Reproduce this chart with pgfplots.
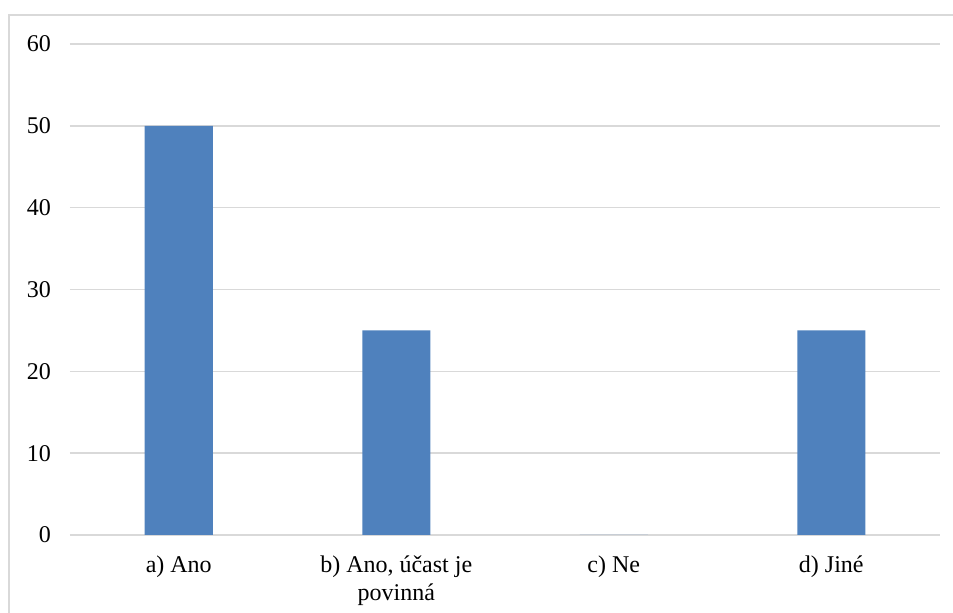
\documentclass[border=0pt]{standalone}
\usepackage{fontspec}
\setmainfont{Liberation Serif}
\usepackage{pgfplots}
\pgfplotsset{compat=1.18}
\definecolor{barblue}{HTML}{4F81BD}
\definecolor{gridgray}{HTML}{D9D9D9}
\begin{document}
\begin{tikzpicture}
\useasboundingbox (0,0) rectangle (476.5pt,306.5pt);
% outer chart frame (top and left edges)
\draw[gridgray, line width=0.8pt] (4.5pt,-2pt) -- (4.5pt,299pt) -- (480pt,299pt);
\begin{axis}[
  at={(35pt,39pt)}, anchor=south west,
  scale only axis, width=435pt, height=245.5pt,
  xmin=-0.5, xmax=3.5, ymin=0, ymax=60,
  ytick={0,10,...,60},
  xtick={0,1,2,3},
  xticklabels={a) Ano, {b) Ano, účast je\\povinná}, c) Ne, d) Jiné},
  axis line style={draw=none},
  major tick length=0pt,
  ymajorgrids, grid style={gridgray, line width=0.8pt},
  ybar, bar width=34pt,
  /pgf/number format/assume math mode=true,
  tick label style={font=\fontsize{12}{14}\selectfont, text=black},
  yticklabel style={xshift=-6pt},
  xticklabel style={align=center, yshift=-7pt},
  clip=false,
]
\addplot[fill=barblue, draw=none] coordinates {(0,50) (1,25) (2,0) (3,25)};
\end{axis}
\end{tikzpicture}
\end{document}
